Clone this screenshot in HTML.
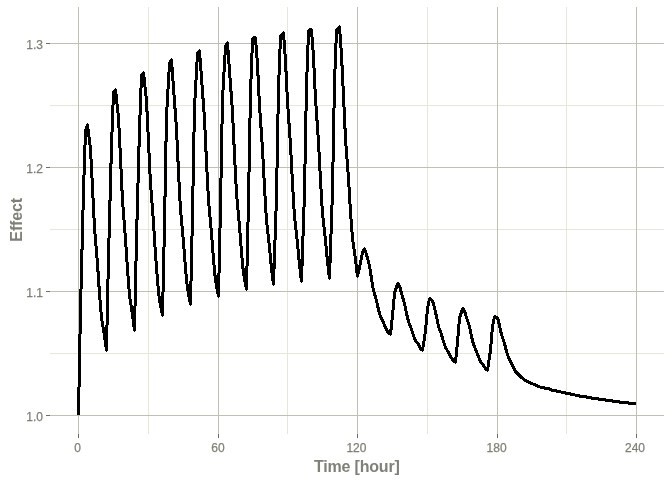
<!DOCTYPE html>
<html lang="en"><head><meta charset="utf-8"><title>Effect vs Time</title>
<style>html,body{margin:0;padding:0;background:#fff;}body{width:672px;height:480px;overflow:hidden;}svg{display:block;}text{font-family:"Liberation Sans",sans-serif;fill:#808078;}.tk{font-size:12px;stroke:#808078;stroke-width:0.25px;}.ttl{font-size:16px;font-weight:bold;}</style></head><body>
<svg width="672" height="480" viewBox="0 0 672 480">
<rect x="0" y="0" width="672" height="480" fill="#ffffff"/>
<g shape-rendering="crispEdges" stroke-width="1" fill="none">
<line x1="50" x2="664" y1="353.5" y2="353.5" stroke="#E6E6D9"/>
<line x1="50" x2="664" y1="229.5" y2="229.5" stroke="#E6E6D9"/>
<line x1="50" x2="664" y1="105.5" y2="105.5" stroke="#E6E6D9"/>
<line y1="7" y2="434" x1="148.5" x2="148.5" stroke="#E6E6D9"/>
<line y1="7" y2="434" x1="287.5" x2="287.5" stroke="#E6E6D9"/>
<line y1="7" y2="434" x1="427.5" x2="427.5" stroke="#E6E6D9"/>
<line y1="7" y2="434" x1="566.5" x2="566.5" stroke="#E6E6D9"/>
<line x1="50" x2="664" y1="415.5" y2="415.5" stroke="#BFBFB4"/>
<line x1="50" x2="664" y1="291.5" y2="291.5" stroke="#BFBFB4"/>
<line x1="50" x2="664" y1="167.5" y2="167.5" stroke="#BFBFB4"/>
<line x1="50" x2="664" y1="43.5" y2="43.5" stroke="#BFBFB4"/>
<line y1="7" y2="434" x1="78.5" x2="78.5" stroke="#BFBFB4"/>
<line y1="7" y2="434" x1="218.5" x2="218.5" stroke="#BFBFB4"/>
<line y1="7" y2="434" x1="357.5" x2="357.5" stroke="#BFBFB4"/>
<line y1="7" y2="434" x1="497.5" x2="497.5" stroke="#BFBFB4"/>
<line y1="7" y2="434" x1="636.5" x2="636.5" stroke="#BFBFB4"/>
<line x1="46" x2="50" y1="415.5" y2="415.5" stroke="#6e6e68"/>
<line x1="46" x2="50" y1="291.5" y2="291.5" stroke="#6e6e68"/>
<line x1="46" x2="50" y1="167.5" y2="167.5" stroke="#6e6e68"/>
<line x1="46" x2="50" y1="43.5" y2="43.5" stroke="#6e6e68"/>
<line y1="434" y2="438" x1="78.5" x2="78.5" stroke="#6e6e68"/>
<line y1="434" y2="438" x1="218.5" x2="218.5" stroke="#6e6e68"/>
<line y1="434" y2="438" x1="357.5" x2="357.5" stroke="#6e6e68"/>
<line y1="434" y2="438" x1="497.5" x2="497.5" stroke="#6e6e68"/>
<line y1="434" y2="438" x1="636.5" x2="636.5" stroke="#6e6e68"/>
</g>
<g fill="none" stroke="#000000" shape-rendering="crispEdges" transform="translate(-0.02,-0.02)"><path stroke-width="3" stroke-linecap="butt" d="M78.5 415.5L80.5 310.5M80.5 310.5L83.5 191.5M83.5 191.5L85.5 131.5M85.5 131.5L87.5 124.5M87.5 124.5L90.5 148.5M90.5 148.5L92.5 187.5M92.5 187.5L94.5 227.5M94.5 227.5L97.5 263.5M97.5 263.5L99.5 293.5M99.5 293.5L101.5 317.5M101.5 317.5L104.5 335.5M104.5 335.5L106.5 350.5M106.5 350.5L108.5 257.5M108.5 257.5L111.5 146.5M111.5 146.5L113.5 92.5M113.5 92.5L115.5 89.5M115.5 89.5L118.5 117.5M118.5 117.5L120.5 157.5M120.5 157.5L122.5 200.5M122.5 200.5L125.5 238.5M125.5 238.5L127.5 269.5M127.5 269.5L129.5 295.5M129.5 295.5L132.5 314.5M132.5 314.5L134.5 330.5M134.5 330.5L136.5 239.5M136.5 239.5L139.5 129.5M139.5 129.5L141.5 75.5M141.5 75.5L143.5 72.5M143.5 72.5L146.5 100.5M146.5 100.5L148.5 141.5M148.5 141.5L150.5 183.5M150.5 183.5L153.5 222.5M153.5 222.5L155.5 254.5M155.5 254.5L157.5 280.5M157.5 280.5L159.5 300.5M159.5 300.5L162.5 315.5M162.5 315.5L164.5 226.5M164.5 226.5L166.5 116.5M166.5 116.5L169.5 63.5M169.5 63.5L171.5 59.5M171.5 59.5L173.5 87.5M173.5 87.5L176.5 128.5M176.5 128.5L178.5 171.5M178.5 171.5L180.5 209.5M180.5 209.5L183.5 242.5M183.5 242.5L185.5 268.5M185.5 268.5L187.5 288.5M187.5 288.5L190.5 304.5M190.5 304.5L192.5 215.5M192.5 215.5L194.5 107.5M194.5 107.5L197.5 53.5M197.5 53.5L199.5 50.5M199.5 50.5L201.5 77.5M201.5 77.5L204.5 118.5M204.5 118.5L206.5 161.5M206.5 161.5L208.5 200.5M208.5 200.5L211.5 233.5M211.5 233.5L213.5 259.5M213.5 259.5L215.5 280.5M215.5 280.5L218.5 296.5M218.5 296.5L220.5 207.5M220.5 207.5L222.5 99.5M222.5 99.5L225.5 46.5M225.5 46.5L227.5 42.5M227.5 42.5L229.5 70.5M229.5 70.5L232.5 111.5M232.5 111.5L234.5 154.5M234.5 154.5L236.5 193.5M236.5 193.5L239.5 226.5M239.5 226.5L241.5 252.5M241.5 252.5L243.5 273.5M243.5 273.5L246.5 289.5M246.5 289.5L248.5 201.5M248.5 201.5L250.5 93.5M250.5 93.5L252.5 40.5M255.5 37.5L257.5 64.5M257.5 64.5L259.5 105.5M259.5 105.5L262.5 148.5M262.5 148.5L264.5 187.5M264.5 187.5L266.5 220.5M266.5 220.5L269.5 247.5M269.5 247.5L271.5 268.5M271.5 268.5L273.5 284.5M273.5 284.5L276.5 197.5M276.5 197.5L278.5 89.5M278.5 89.5L280.5 36.5M280.5 36.5L283.5 32.5M283.5 32.5L285.5 60.5M285.5 60.5L287.5 101.5M287.5 101.5L290.5 144.5M290.5 144.5L292.5 183.5M292.5 183.5L294.5 216.5M294.5 216.5L297.5 243.5M297.5 243.5L299.5 264.5M299.5 264.5L301.5 281.5M301.5 281.5L304.5 193.5M304.5 193.5L306.5 86.5M306.5 86.5L308.5 32.5M311.5 29.5L313.5 56.5M313.5 56.5L315.5 98.5M315.5 98.5L318.5 141.5M318.5 141.5L320.5 180.5M320.5 180.5L322.5 213.5M322.5 213.5L325.5 240.5M325.5 240.5L327.5 261.5M327.5 261.5L329.5 278.5M329.5 278.5L332.5 191.5M332.5 191.5L334.5 83.5M334.5 83.5L336.5 30.5M336.5 30.5L339.5 26.5M339.5 26.5L341.5 54.5M341.5 54.5L343.5 95.5M343.5 95.5L345.5 138.5M345.5 138.5L348.5 178.5M348.5 178.5L350.5 211.5M350.5 211.5L352.5 238.5M352.5 238.5L355.5 259.5M355.5 259.5L357.5 276.5M357.5 276.5L359.5 267.5M359.5 267.5L362.5 252.5M362.5 252.5L364.5 248.5M364.5 248.5L366.5 254.5M366.5 254.5L369.5 265.5M369.5 265.5L371.5 278.5M371.5 278.5L373.5 290.5M373.5 290.5L376.5 300.5M376.5 300.5L378.5 309.5M378.5 309.5L380.5 316.5M380.5 316.5L383.5 322.5M383.5 322.5L385.5 327.5M385.5 327.5L387.5 331.5M390.5 334.5L392.5 315.5M392.5 315.5L394.5 293.5M394.5 293.5L397.5 283.5M399.5 285.5L401.5 293.5M401.5 293.5L404.5 303.5M404.5 303.5L406.5 313.5M406.5 313.5L408.5 321.5M408.5 321.5L411.5 329.5M411.5 329.5L413.5 335.5M413.5 335.5L415.5 340.5M415.5 340.5L418.5 344.5M418.5 344.5L420.5 348.5M422.5 350.5L425.5 331.5M425.5 331.5L427.5 308.5M427.5 308.5L429.5 298.5M429.5 298.5L432.5 300.5M432.5 300.5L434.5 307.5M434.5 307.5L436.5 316.5M436.5 316.5L438.5 326.5M438.5 326.5L441.5 334.5M441.5 334.5L443.5 341.5M443.5 341.5L445.5 347.5M445.5 347.5L448.5 352.5M448.5 352.5L450.5 356.5M450.5 356.5L452.5 359.5M455.5 362.5L457.5 342.5M457.5 342.5L459.5 318.5M459.5 318.5L462.5 308.5M464.5 310.5L466.5 317.5M466.5 317.5L469.5 326.5M469.5 326.5L471.5 336.5M471.5 336.5L473.5 344.5M473.5 344.5L476.5 351.5M476.5 351.5L478.5 356.5M478.5 356.5L480.5 361.5M480.5 361.5L483.5 365.5M483.5 365.5L485.5 368.5M487.5 370.5L490.5 350.5M490.5 350.5L492.5 326.5M492.5 326.5L494.5 316.5M494.5 316.5L497.5 317.5M497.5 317.5L499.5 325.5M499.5 325.5L501.5 334.5M501.5 334.5L504.5 343.5M504.5 343.5L506.5 351.5M506.5 351.5L508.5 357.5M508.5 357.5L511.5 363.5M511.5 363.5L513.5 367.5M513.5 367.5L515.5 371.5M522.5 378.5L525.5 380.5M525.5 380.5L527.5 381.5M527.5 381.5L529.5 382.5M529.5 382.5L531.5 383.5M531.5 383.5L534.5 384.5M534.5 384.5L536.5 385.5M536.5 385.5L538.5 386.5M538.5 386.5L541.5 387.5M541.5 387.5L543.5 387.5M543.5 387.5L545.5 388.5M545.5 388.5L548.5 388.5M548.5 388.5L550.5 389.5M550.5 389.5L552.5 390.5M552.5 390.5L555.5 390.5M555.5 390.5L557.5 391.5M557.5 391.5L559.5 391.5M559.5 391.5L562.5 392.5M562.5 392.5L564.5 392.5M564.5 392.5L566.5 393.5M566.5 393.5L569.5 393.5M569.5 393.5L571.5 394.5M571.5 394.5L573.5 394.5M573.5 394.5L576.5 395.5M576.5 395.5L578.5 395.5M578.5 395.5L580.5 396.5M580.5 396.5L583.5 396.5M583.5 396.5L585.5 396.5M585.5 396.5L587.5 397.5M587.5 397.5L590.5 397.5M590.5 397.5L592.5 398.5M592.5 398.5L594.5 398.5M594.5 398.5L597.5 398.5M597.5 398.5L599.5 399.5M599.5 399.5L601.5 399.5M601.5 399.5L604.5 399.5M604.5 399.5L606.5 400.5M606.5 400.5L608.5 400.5M608.5 400.5L611.5 400.5M611.5 400.5L613.5 401.5M613.5 401.5L615.5 401.5M615.5 401.5L618.5 401.5M618.5 401.5L620.5 402.5M620.5 402.5L622.5 402.5M622.5 402.5L624.5 402.5M624.5 402.5L627.5 402.5M627.5 402.5L629.5 403.5M629.5 403.5L631.5 403.5M631.5 403.5L634.5 403.5M634.5 403.5L636.5 403.5"/><path stroke-width="2.82" stroke-linecap="butt" d="M252.5 40.5L255.5 37.5M251.5 40.5L254.5 37.5M308.5 32.5L311.5 29.5M307.5 32.5L310.5 29.5M387.5 331.5L390.5 334.5M386.5 331.5L389.5 334.5M397.5 283.5L399.5 285.5M396.5 283.5L398.5 285.5M420.5 348.5L422.5 350.5M419.5 348.5L421.5 350.5M452.5 359.5L455.5 362.5M451.5 359.5L454.5 362.5M462.5 308.5L464.5 310.5M461.5 308.5L463.5 310.5M485.5 368.5L487.5 370.5M484.5 368.5L486.5 370.5M515.5 371.5L518.5 374.5M514.5 371.5L517.5 374.5M518.5 374.5L520.5 376.5M517.5 374.5L519.5 376.5M520.5 376.5L522.5 378.5M519.5 376.5L521.5 378.5"/><path stroke-width="2.4" stroke-linecap="round" d="M80.5 310.5h0M83.5 191.5h0M85.5 131.5h0M87.5 124.5h0M90.5 148.5h0M92.5 187.5h0M94.5 227.5h0M97.5 263.5h0M99.5 293.5h0M101.5 317.5h0M104.5 335.5h0M106.5 350.5h0M108.5 257.5h0M111.5 146.5h0M113.5 92.5h0M115.5 89.5h0M118.5 117.5h0M120.5 157.5h0M122.5 200.5h0M125.5 238.5h0M127.5 269.5h0M129.5 295.5h0M132.5 314.5h0M134.5 330.5h0M136.5 239.5h0M139.5 129.5h0M141.5 75.5h0M143.5 72.5h0M146.5 100.5h0M148.5 141.5h0M150.5 183.5h0M153.5 222.5h0M155.5 254.5h0M157.5 280.5h0M159.5 300.5h0M162.5 315.5h0M164.5 226.5h0M166.5 116.5h0M169.5 63.5h0M171.5 59.5h0M173.5 87.5h0M176.5 128.5h0M178.5 171.5h0M180.5 209.5h0M183.5 242.5h0M185.5 268.5h0M187.5 288.5h0M190.5 304.5h0M192.5 215.5h0M194.5 107.5h0M197.5 53.5h0M199.5 50.5h0M201.5 77.5h0M204.5 118.5h0M206.5 161.5h0M208.5 200.5h0M211.5 233.5h0M213.5 259.5h0M215.5 280.5h0M218.5 296.5h0M220.5 207.5h0M222.5 99.5h0M225.5 46.5h0M227.5 42.5h0M229.5 70.5h0M232.5 111.5h0M234.5 154.5h0M236.5 193.5h0M239.5 226.5h0M241.5 252.5h0M243.5 273.5h0M246.5 289.5h0M248.5 201.5h0M250.5 93.5h0M252.5 40.5h0M255.5 37.5h0M257.5 64.5h0M259.5 105.5h0M262.5 148.5h0M264.5 187.5h0M266.5 220.5h0M269.5 247.5h0M271.5 268.5h0M273.5 284.5h0M276.5 197.5h0M278.5 89.5h0M280.5 36.5h0M283.5 32.5h0M285.5 60.5h0M287.5 101.5h0M290.5 144.5h0M292.5 183.5h0M294.5 216.5h0M297.5 243.5h0M299.5 264.5h0M301.5 281.5h0M304.5 193.5h0M306.5 86.5h0M308.5 32.5h0M311.5 29.5h0M313.5 56.5h0M315.5 98.5h0M318.5 141.5h0M320.5 180.5h0M322.5 213.5h0M325.5 240.5h0M327.5 261.5h0M329.5 278.5h0M332.5 191.5h0M334.5 83.5h0M336.5 30.5h0M339.5 26.5h0M341.5 54.5h0M343.5 95.5h0M345.5 138.5h0M348.5 178.5h0M350.5 211.5h0M352.5 238.5h0M355.5 259.5h0M357.5 276.5h0M359.5 267.5h0M362.5 252.5h0M364.5 248.5h0M366.5 254.5h0M369.5 265.5h0M371.5 278.5h0M373.5 290.5h0M376.5 300.5h0M378.5 309.5h0M380.5 316.5h0M383.5 322.5h0M385.5 327.5h0M387.5 331.5h0M390.5 334.5h0M392.5 315.5h0M394.5 293.5h0M397.5 283.5h0M399.5 285.5h0M401.5 293.5h0M404.5 303.5h0M406.5 313.5h0M408.5 321.5h0M411.5 329.5h0M413.5 335.5h0M415.5 340.5h0M418.5 344.5h0M420.5 348.5h0M422.5 350.5h0M425.5 331.5h0M427.5 308.5h0M429.5 298.5h0M432.5 300.5h0M434.5 307.5h0M436.5 316.5h0M438.5 326.5h0M441.5 334.5h0M443.5 341.5h0M445.5 347.5h0M448.5 352.5h0M450.5 356.5h0M452.5 359.5h0M455.5 362.5h0M457.5 342.5h0M459.5 318.5h0M462.5 308.5h0M464.5 310.5h0M466.5 317.5h0M469.5 326.5h0M471.5 336.5h0M473.5 344.5h0M476.5 351.5h0M478.5 356.5h0M480.5 361.5h0M483.5 365.5h0M485.5 368.5h0M487.5 370.5h0M490.5 350.5h0M492.5 326.5h0M494.5 316.5h0M497.5 317.5h0M499.5 325.5h0M501.5 334.5h0M504.5 343.5h0M506.5 351.5h0M508.5 357.5h0M511.5 363.5h0M513.5 367.5h0M515.5 371.5h0M518.5 374.5h0M520.5 376.5h0M522.5 378.5h0M525.5 380.5h0M527.5 381.5h0M529.5 382.5h0M531.5 383.5h0M534.5 384.5h0M536.5 385.5h0M538.5 386.5h0M541.5 387.5h0M543.5 387.5h0M545.5 388.5h0M548.5 388.5h0M550.5 389.5h0M552.5 390.5h0M555.5 390.5h0M557.5 391.5h0M559.5 391.5h0M562.5 392.5h0M564.5 392.5h0M566.5 393.5h0M569.5 393.5h0M571.5 394.5h0M573.5 394.5h0M576.5 395.5h0M578.5 395.5h0M580.5 396.5h0M583.5 396.5h0M585.5 396.5h0M587.5 397.5h0M590.5 397.5h0M592.5 398.5h0M594.5 398.5h0M597.5 398.5h0M599.5 399.5h0M601.5 399.5h0M604.5 399.5h0M606.5 400.5h0M608.5 400.5h0M611.5 400.5h0M613.5 401.5h0M615.5 401.5h0M618.5 401.5h0M620.5 402.5h0M622.5 402.5h0M624.5 402.5h0M627.5 402.5h0M629.5 403.5h0M631.5 403.5h0M634.5 403.5h0M254.5 37.5h0M310.5 29.5h0"/></g>
<text class="tk" x="43.0" y="420.7" text-anchor="end">1.0</text>
<text class="tk" x="43.0" y="296.7" text-anchor="end">1.1</text>
<text class="tk" x="43.0" y="172.7" text-anchor="end">1.2</text>
<text class="tk" x="43.0" y="48.7" text-anchor="end">1.3</text>
<text class="tk" x="77.5" y="451.8" text-anchor="middle">0</text>
<text class="tk" x="217.9" y="451.8" text-anchor="middle">60</text>
<text class="tk" x="356.4" y="451.8" text-anchor="middle">120</text>
<text class="tk" x="496.6" y="451.8" text-anchor="middle">180</text>
<text class="tk" x="635.0" y="451.8" text-anchor="middle">240</text>
<text class="ttl" x="356.8" y="471.7" text-anchor="middle" letter-spacing="-0.2">Time [hour]</text>
<text class="ttl" transform="translate(22.0,219.85) rotate(-90)" text-anchor="middle" letter-spacing="-0.15">Effect</text>
</svg></body></html>
